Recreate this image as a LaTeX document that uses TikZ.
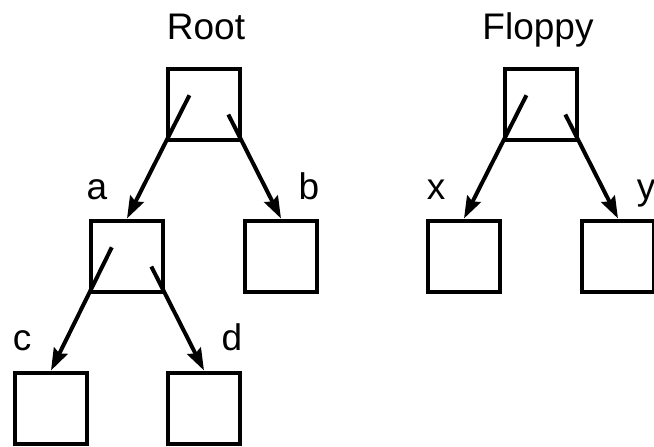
\documentclass[tikz,border=0pt]{standalone}
\usepackage{fontspec}
\setmainfont{Liberation Sans}
\usetikzlibrary{arrows.meta,calc}
\begin{document}
\begin{tikzpicture}[x=1pt,y=-1pt,
  dirbox/.style={draw=black,line width=4pt,minimum width=72pt,minimum height=71pt,inner sep=0pt},
  lbl/.style={anchor=base,inner sep=0pt,font=\fontsize{37}{44}\selectfont},
  arr/.style={line width=4pt,-{Stealth[length=22pt,width=15pt,inset=3pt]}}]
\useasboundingbox (0,0) rectangle (654,447);
\begin{scope}
\clip (0,0) rectangle (654,447);
\node[dirbox] (root) at (204,104) {};
\node[dirbox] (floppy) at (541,104) {};
\node[dirbox] (a) at (127,256) {};
\node[dirbox] (b) at (281,256) {};
\node[dirbox] (c) at (51,408) {};
\node[dirbox] (d) at (204,408) {};
\node[dirbox] (x) at (464,256) {};
\node[dirbox] (y) at (618,256) {};

\node[lbl] (lroot) at (206,39) {Root};
\node[lbl] (lfloppy) at (538,39) {Floppy};
\node[lbl] (la) at (97,199) {a};
\node[lbl] (lb) at (309,199) {b};
\node[lbl] (lc) at (22,350) {c};
\node[lbl] (ld) at (232,350) {d};
\node[lbl] (lx) at (436,199) {x};
\node[lbl] (ly) at (646,199) {y};

\draw[arr] ($(root.south west)!-0.6!(a.north)$) -- (a.north);
\draw[arr] ($(root.south east)!-0.35!(b.north)$) -- (b.north);
\draw[arr] ($(a.south west)!-0.6!(c.north)$) -- (c.north);
\draw[arr] ($(a.south east)!-0.35!(d.north)$) -- (d.north);
\draw[arr] ($(floppy.south west)!-0.6!(x.north)$) -- (x.north);
\draw[arr] ($(floppy.south east)!-0.35!(y.north)$) -- (y.north);
\end{scope}
\end{tikzpicture}
\end{document}
